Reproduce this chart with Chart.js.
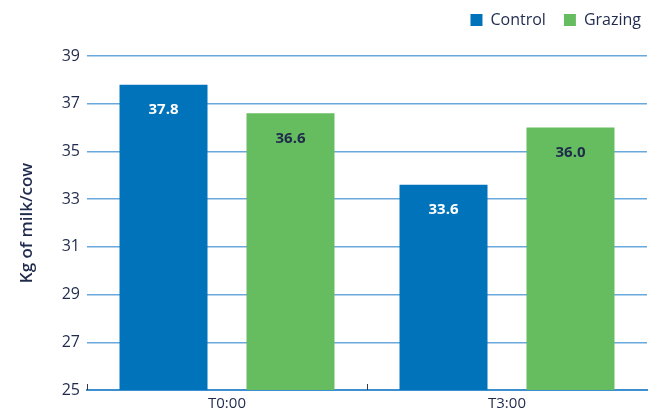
<html>
  <head>
    <script src="https://cdn.jsdelivr.net/npm/chart.js"></script>
    <style>
      body { margin: 0; background: #ffffff; }
      #wrap { width: 659px; height: 415px; }
    </style>
  </head>

  <body>
    <div id="wrap">
      <canvas id="myChart" width="659" height="415"></canvas>
    </div>
    <script>
      const categories = ["T0:00", "T3:00"]
      const control = [37.8, 33.6]
      const grazing = [36.6, 36.0]
      const yTicks = [25, 27, 29, 31, 33, 35, 37, 39]

      const navy = "#1f2a4d"
      const font = "Open Sans"

      // value labels inside the top of each bar
      const barLabels = {
        id: "barLabels",
        afterDatasetsDraw(chart) {
          const ctx = chart.ctx
          ctx.save()
          ctx.font = "bold 15px " + font
          ctx.textAlign = "center"
          ctx.textBaseline = "middle"
          chart.data.datasets.forEach(function (ds, i) {
            const meta = chart.getDatasetMeta(i)
            meta.data.forEach(function (bar, j) {
              ctx.fillStyle = i === 0 ? "#ffffff" : navy
              ctx.fillText(ds.data[j].toFixed(1), bar.x, bar.y + 25)
            })
          })
          ctx.restore()
        }
      }

      // small upward tick marks at category boundaries
      const boundaryTicks = {
        id: "boundaryTicks",
        afterDraw(chart) {
          const x = chart.scales.x
          const ctx = chart.ctx
          ctx.save()
          ctx.strokeStyle = "#333a4d"
          ctx.lineWidth = 1
          for (let i = 0; i < categories.length; i++) {
            const px = Math.round(x.getPixelForValue(i - 0.5)) + 0.5
            ctx.beginPath()
            ctx.moveTo(px, x.top)
            ctx.lineTo(px, x.top - 6)
            ctx.stroke()
          }
          ctx.restore()
        }
      }

      // legend box takes a fixed height so the plot starts where it should
      const fixLegend = {
        id: "fixLegend",
        afterInit(chart) {
          const orig = chart.legend.fit
          chart.legend.fit = function () {
            orig.call(this)
            this.height = 62
          }
        }
      }

      const config = {
        type: "bar",
        data: {
          labels: categories,
          datasets: [
            {
              label: "Control",
              data: control,
              backgroundColor: "#0073bb",
              categoryPercentage: 0.907,
              barPercentage: 0.693
            },
            {
              label: "Grazing",
              data: grazing,
              backgroundColor: "#66bd5f",
              categoryPercentage: 0.907,
              barPercentage: 0.693
            }
          ]
        },
        options: {
          responsive: false,
          animation: false,
          layout: { padding: { left: 0, right: 0, top: -6, bottom: 0 } },
          plugins: {
            legend: {
              align: "end",
              labels: {
                boxWidth: 12,
                boxHeight: 12,
                padding: 18,
                color: navy,
                font: { family: font, size: 16 }
              }
            },
            tooltip: { enabled: false }
          },
          scales: {
            x: {
              afterFit(scale) { scale.height = 25 },
              grid: { display: false, drawTicks: false },
              border: { color: "#3d8fd0", width: 2 },
              ticks: { color: navy, padding: 5, font: { family: font, size: 15 } }
            },
            y: {
              min: 25,
              max: 39,
              afterFit(scale) { scale.width = 87 },
              afterBuildTicks(scale) {
                scale.ticks = yTicks.map(function (v) { return { value: v } })
              },
              grid: { color: "#6aa7da", lineWidth: 1.5, drawTicks: false },
              border: { display: false },
              ticks: { color: navy, padding: 7, font: { family: font, size: 16 } },
              title: {
                display: true,
                text: "Kg of milk/cow",
                color: navy,
                padding: { top: 17, bottom: 0 },
                font: { family: font, size: 17, weight: "600" }
              }
            },
            // empty right-hand axis, only reserves the right margin of the plot
            right: {
              position: "right",
              display: true,
              afterFit(scale) { scale.width = 12 },
              grid: { display: false, drawTicks: false },
              border: { display: false },
              ticks: { display: false }
            }
          }
        },
        plugins: [barLabels, boundaryTicks, fixLegend]
      }

      const myChart = new Chart(document.getElementById("myChart"), config)
    </script>
  </body>
</html>
